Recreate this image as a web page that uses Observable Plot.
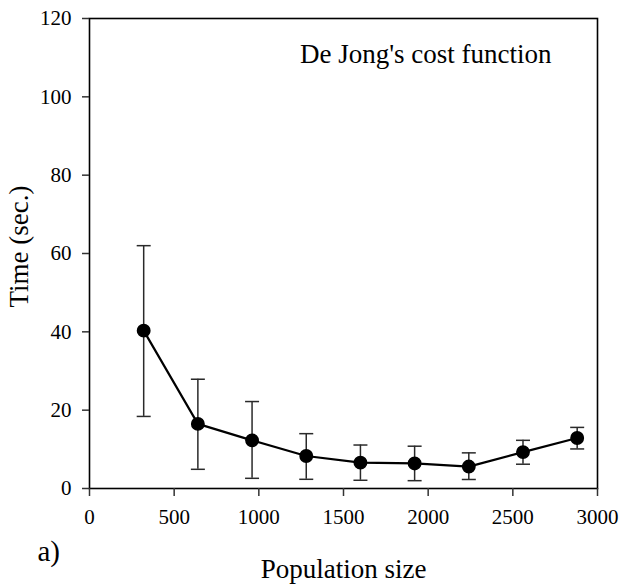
<!DOCTYPE html>
<html><head><meta charset="utf-8">
<script src="https://cdn.jsdelivr.net/npm/d3@7"></script>
<script src="https://cdn.jsdelivr.net/npm/@observablehq/plot@0.6"></script>
<style>body{margin:0;background:#fff} svg, svg text{font-family:"Liberation Serif", "Times New Roman", serif !important;}</style>
</head><body><div id="chart"></div>
<script>
const popSize = [320, 640, 960, 1280, 1600, 1920, 2240, 2560, 2880];
const timeMean = [40.3, 16.5, 12.3, 8.3, 6.6, 6.4, 5.6, 9.3, 12.9];
const timeLow = [18.4, 4.9, 2.6, 2.35, 2.1, 2.0, 2.3, 6.2, 10.1];
const timeHigh = [62.0, 27.9, 22.2, 14.0, 11.1, 10.8, 9.1, 12.3, 15.6];
const xTicks = [0, 500, 1000, 1500, 2000, 2500, 3000];
const yTicks = [0, 20, 40, 60, 80, 100, 120];
const titleText = "De Jong's cost function";
const xLabel = "Population size";
const yLabel = "Time (sec.)";
const panelLabel = "a)";

const data = popSize.map((x, i) => ({x, y: timeMean[i], lo: timeLow[i], hi: timeHigh[i]}));

const cap = {draw(ctx, size) { const h = Math.sqrt(size / Math.PI); ctx.moveTo(-h, 0); ctx.lineTo(h, 0); }};
const serif = "Liberation Serif";

const chart = Plot.plot({
  width: 621, height: 585,
  marginLeft: 89, marginRight: 24, marginTop: 18, marginBottom: 97,
  style: {fontFamily: serif, background: "#fff", color: "#000"},
  x: {domain: [0, 3000]},
  y: {domain: [0, 120]},
  marks: [
    Plot.frame({stroke: "#000", strokeWidth: 1.6}),
    Plot.axisY({ticks: yTicks, tickSize: 7, tickPadding: 11, fontSize: 21, label: null, stroke: "#333", strokeWidth: 1.5, fontFamily: serif}),
    Plot.axisX({ticks: xTicks, tickSize: 8, tickPadding: 13, fontSize: 21, label: null, stroke: "#333", strokeWidth: 1.5, tickFormat: d3.format("d"), fontFamily: serif}),
    Plot.ruleX(data, {x: "x", y1: "lo", y2: "hi", stroke: "#2a2a2a", strokeWidth: 1.5}),
    Plot.dot(data, {x: "x", y: "lo", symbol: cap, r: 7, stroke: "#2a2a2a", strokeWidth: 1.5}),
    Plot.dot(data, {x: "x", y: "hi", symbol: cap, r: 7, stroke: "#2a2a2a", strokeWidth: 1.5}),
    Plot.line(data, {x: "x", y: "y", stroke: "#000", strokeWidth: 2.2}),
    Plot.dot(data, {x: "x", y: "y", r: 6.2, fill: "#000", stroke: "#000"}),
    Plot.text([titleText], {frameAnchor: "top-right", lineAnchor: "middle", dx: -46, dy: 36, fontSize: 27, textAnchor: "end", fill: "#000", fontFamily: serif}),
    Plot.text([yLabel], {frameAnchor: "left", lineAnchor: "middle", textAnchor: "middle", dx: -70, dy: -7, rotate: -90, fontSize: 27, fill: "#000", fontFamily: serif}),
    Plot.text([xLabel], {frameAnchor: "bottom", lineAnchor: "middle", textAnchor: "middle", dx: 0, dy: 81, fontSize: 27, fill: "#000", fontFamily: serif}),
    Plot.text([panelLabel], {frameAnchor: "bottom-left", lineAnchor: "middle", textAnchor: "start", dx: -52, dy: 63, fontSize: 29, fill: "#000", fontFamily: serif})
  ]
});
document.getElementById("chart").appendChild(chart);
</script>
</body></html>
